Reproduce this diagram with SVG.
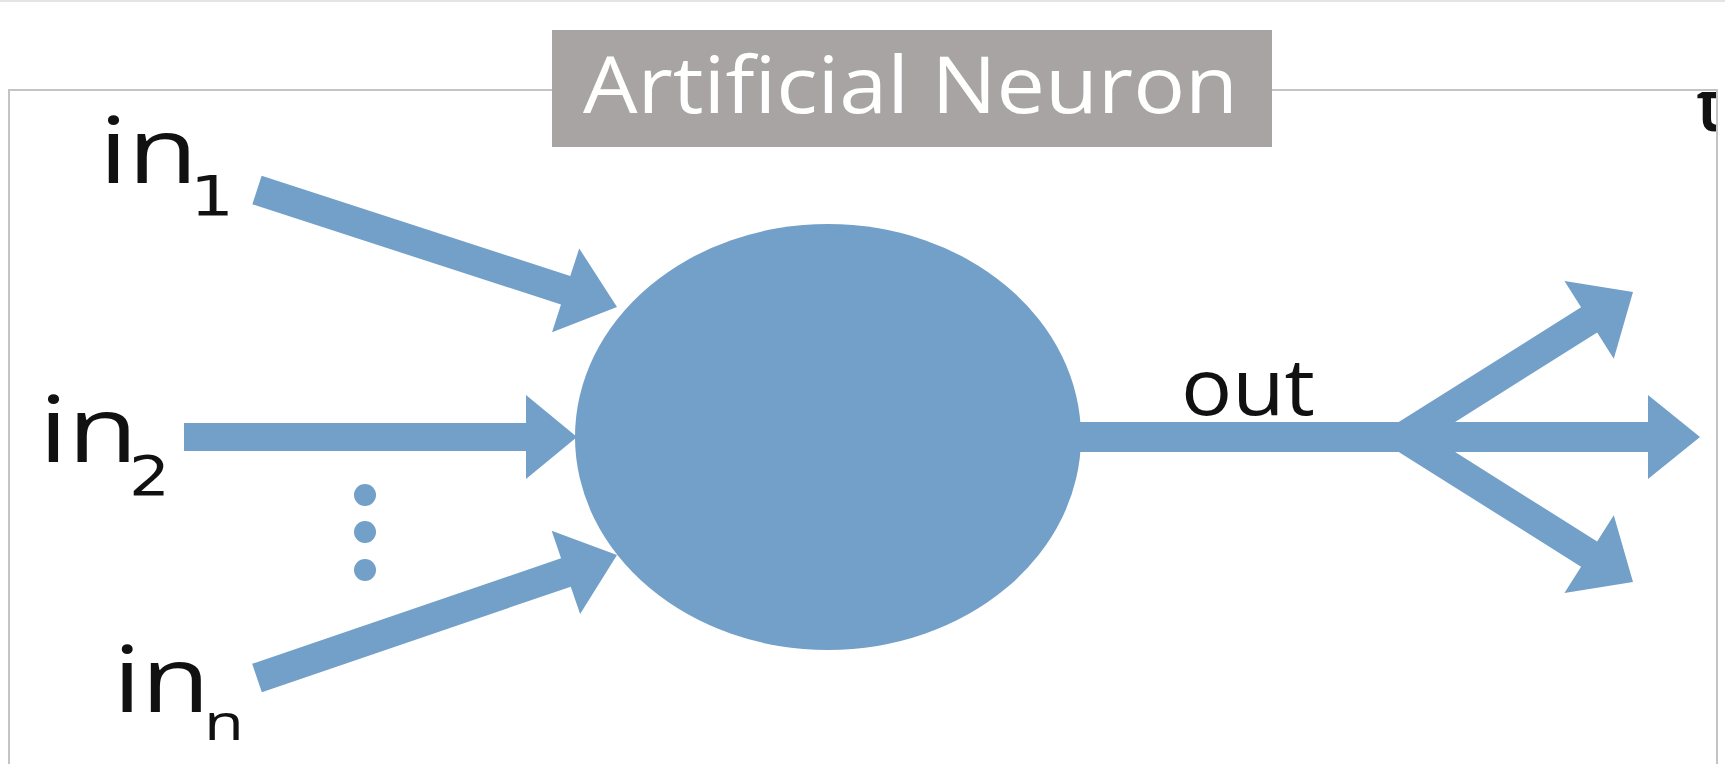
<svg xmlns="http://www.w3.org/2000/svg" width="1725" height="764" viewBox="0 0 1725 764">
  <style>
    .lbl { font-family: "Open Sans", "DejaVu Sans", sans-serif; fill: #111111; }
    .sub { font-family: "DejaVu Sans", "Open Sans", sans-serif; fill: #111111; }
    .flow { fill: #72a0c8; }
  </style>
  <defs>
    <clipPath id="cornerClip">
      <rect x="1680" y="92" width="36" height="50"/>
    </clipPath>
  </defs>

  <!-- page background and faint top rule -->
  <rect x="0" y="0" width="1725" height="764" fill="#ffffff"/>
  <line x1="0" y1="1" x2="1725" y2="1" stroke="#e4e4e4" stroke-width="2"/>

  <!-- outer frame -->
  <g id="frame">
    <rect x="9" y="90" width="1708" height="700" fill="none" stroke="#c4c4c4" stroke-width="2"/>
    <text x="1696" y="131" class="lbl" font-size="72" font-weight="600" clip-path="url(#cornerClip)">t</text>
  </g>

  <!-- title banner -->
  <g id="title">
    <rect x="552" y="30" width="720" height="117" fill="#a8a4a4"/>
    <text x="583" y="113" font-family="'Open Sans', 'DejaVu Sans', sans-serif" font-size="78" fill="#ffffff" textLength="655" lengthAdjust="spacingAndGlyphs">Artificial Neuron</text>
  </g>

  <!-- arrows into and out of the neuron -->
  <g id="connectors" class="flow">
    <polygon id="arrow-in1" points="261.64,175.73 570.28,276.04 579.24,248.46 617,307 552.04,332.16 561.0,304.58 252.36,204.27"/>
    <polygon id="arrow-in2" points="184,423 526,423 526,395 577,437 526,479 526,451 184,451"/>
    <polygon id="arrow-inn" points="252.15,663.81 561.05,558.27 551.67,530.82 617,555 580.13,614.10 570.75,586.65 261.85,692.19"/>
    <polygon id="arrow-out-mid" points="1070,422 1648,422 1648,395 1700,437 1648,479 1648,452 1070,452"/>
    <polygon id="arrow-out-up" points="1391.96,426.34 1581.07,307.22 1564.44,281.05 1633,292 1613.78,358.71 1597.15,332.54 1408.04,451.66"/>
    <polygon id="arrow-out-down" points="1391.96,447.66 1581.07,566.78 1564.44,592.95 1633,582 1613.78,515.29 1597.15,541.46 1408.04,422.34"/>
  </g>

  <!-- neuron body -->
  <g id="neuron">
    <ellipse cx="828" cy="437" rx="253" ry="213" fill="#72a0c8"/>
  </g>

  <!-- vertical ellipsis between inputs -->
  <g id="ellipsis" class="flow">
    <circle cx="365" cy="495" r="11"/>
    <circle cx="365" cy="532" r="11"/>
    <circle cx="365" cy="570" r="11"/>
  </g>

  <!-- input labels -->
  <g id="label-in1">
    <text x="99" y="183" class="lbl" font-size="92" textLength="99" lengthAdjust="spacingAndGlyphs">in</text>
    <text x="190" y="215" class="sub" font-size="55" textLength="44" lengthAdjust="spacingAndGlyphs">1</text>
  </g>
  <g id="label-in2">
    <text x="39" y="462" class="lbl" font-size="92" textLength="99" lengthAdjust="spacingAndGlyphs">in</text>
    <text x="129" y="495" class="sub" font-size="55" textLength="41" lengthAdjust="spacingAndGlyphs">2</text>
  </g>
  <g id="label-inn">
    <text x="113" y="712" class="lbl" font-size="92" textLength="97" lengthAdjust="spacingAndGlyphs">in</text>
    <text x="204" y="740" class="lbl" font-size="50" textLength="40" lengthAdjust="spacingAndGlyphs">n</text>
  </g>

  <!-- output label -->
  <g id="label-out">
    <text x="1181" y="415" class="lbl" font-size="78" textLength="134" lengthAdjust="spacingAndGlyphs">out</text>
  </g>
</svg>
